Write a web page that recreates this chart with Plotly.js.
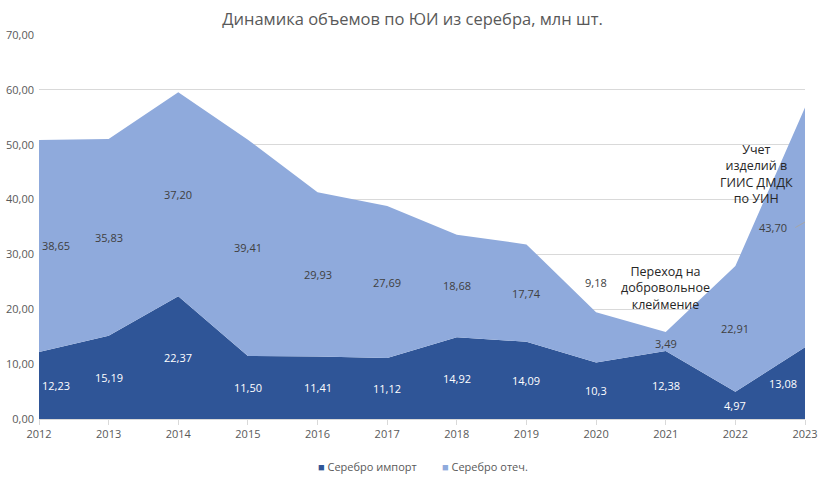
<!DOCTYPE html>
<html><head><meta charset="utf-8">
<script src="https://cdn.plot.ly/plotly-3.0.1.min.js"></script>
<style>html,body{margin:0;padding:0;background:#fff}#c{width:825px;height:483px}</style>
</head><body><div id="c"></div>
<script>
const years = [2012,2013,2014,2015,2016,2017,2018,2019,2020,2021,2022,2023];
const importVals = [12.23,15.19,22.37,11.50,11.41,11.12,14.92,14.09,10.3,12.38,4.97,13.08];
const domesticVals = [38.65,35.83,37.20,39.41,29.93,27.69,18.68,17.74,9.18,3.49,22.91,43.70];
const importLabels = ["12,23","15,19","22,37","11,50","11,41","11,12","14,92","14,09","10,3","12,38","4,97","13,08"];
const domesticLabels = ["38,65","35,83","37,20","39,41","29,93","27,69","18,68","17,74","9,18","3,49","22,91","43,70"];
const seriesNames = ["Серебро импорт","Серебро отеч."];
const titleText = "Динамика объемов по ЮИ из серебра, млн шт.";
const note1 = "Переход на<br>добровольное<br>клеймение";
const note2 = "Учет<br>изделий в<br>ГИИС ДМДК<br>по УИН";

const FONT = "Open Sans, Noto Sans, sans-serif";
const cImp = "#2F5597", cDom = "#8FAADC";
const colors = [cImp, cDom];

const traces = [
  {x: years, y: importVals, name: seriesNames[0], type: "scatter", mode: "none",
   stackgroup: "one", fillcolor: cImp, line: {width: 0}, hoverinfo: "skip", showlegend: false},
  {x: years, y: domesticVals, name: seriesNames[1], type: "scatter", mode: "none",
   stackgroup: "one", fillcolor: cDom, line: {width: 0}, hoverinfo: "skip", showlegend: false}
];

const ann = [];
const n = years.length;
years.forEach((yr, i) => {
  let xs = 0;
  if (i === 0) xs = 17;
  if (i === n - 1) xs = -22;
  ann.push({x: yr, y: importVals[i] / 2, text: importLabels[i], showarrow: false,
    xshift: xs, font: {family: FONT, size: 11, color: "#ffffff"}});
  let ym = importVals[i] + domesticVals[i] / 2;
  let ys = 0;
  if (i === 8) ys = 55;
  if (i === 9) ys = -2;
  let dxs = xs;
  if (i === n - 1) dxs = -32;
  ann.push({x: yr, y: ym, text: domesticLabels[i], showarrow: false,
    xshift: dxs, yshift: ys, font: {family: FONT, size: 11, color: "#404040"}});
});
ann.push({x: 2021, y: 23.9, text: note1, showarrow: false,
  font: {family: FONT, size: 12.5, color: "#262626"}, align: "center"});
ann.push({x: 2022.3, y: 44.7, text: note2, showarrow: false,
  font: {family: FONT, size: 12.5, color: "#262626"}, align: "center"});

// custom legend (square + label)
const legendX = [0.362, 0.523];
seriesNames.forEach((nm, i) => {
  ann.push({xref: "paper", yref: "paper", x: legendX[i], y: -0.1224, xanchor: "left", yanchor: "middle",
    showarrow: false, align: "left",
    text: '<span style="color:' + colors[i] + '">■</span> ' + nm,
    font: {family: FONT, size: 11, color: "#595959"}});
});

const layout = {
  width: 825, height: 483,
  margin: {l: 39, r: 20, t: 35, b: 64},
  paper_bgcolor: "#ffffff", plot_bgcolor: "#ffffff",
  separators: ", ",
  title: {text: titleText, x: 0.5, xanchor: "center", y: 0.96, yanchor: "middle",
    font: {family: FONT, size: 16.5, color: "#595959"}},
  showlegend: false,
  xaxis: {range: [2012, 2023], tickmode: "array", tickvals: years, ticktext: years.map(String),
    showgrid: false, zeroline: false, showline: true, linecolor: "#d9d9d9", linewidth: 1,
    ticks: "outside", ticklen: 5, tickcolor: "#d9d9d9",
    tickfont: {family: FONT, size: 11, color: "#595959"}, fixedrange: true},
  yaxis: {range: [0, 70], dtick: 10, tickformat: ".2f", showgrid: true, gridcolor: "#d9d9d9",
    gridwidth: 1, zeroline: false, showline: false, ticks: "", ticklabelstandoff: 4,
    tickfont: {family: FONT, size: 11, color: "#595959"}, fixedrange: true},
  annotations: ann,
  shapes: [{type: "line", xref: "x", yref: "y", x0: 2022.86, x1: 2023, y0: 34.9, y1: 35.9,
    line: {color: "#a6a6a6", width: 1}}]
};
Plotly.newPlot("c", traces, layout, {staticPlot: true, displayModeBar: false});
</script></body></html>
